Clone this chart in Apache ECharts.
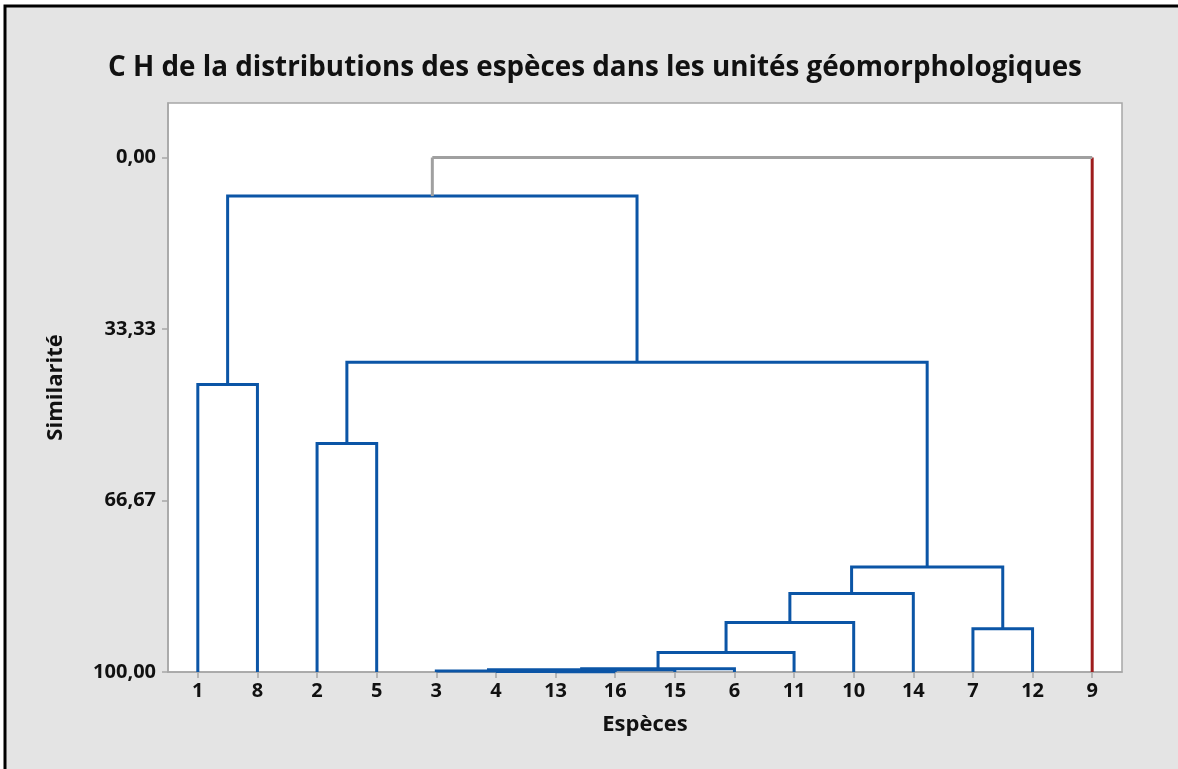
<!DOCTYPE html>
<html>
<head>
<meta charset="utf-8">
<script src="https://cdn.jsdelivr.net/npm/echarts@6/dist/echarts.min.js"></script>
<style>
  html, body { margin: 0; padding: 0; background: #ffffff; }
  #chart { width: 1178px; height: 769px; }
</style>
</head>
<body>
<div id="chart"></div>
<script>
// Leaves in display order and their colour group
const leaves = ['1', '8', '2', '5', '3', '4', '13', '16', '15', '6', '11', '10', '14', '7', '12', '9'];
const leafGroup = [1, 1, 1, 1, 1, 1, 1, 1, 1, 1, 1, 1, 1, 1, 1, 2];

// Agglomeration steps: cluster Ck joins mergeLeft[k] and mergeRight[k] at mergeSimilarity[k]
const mergeLeft = ['13', '4', '3', 'C2', 'C3', 'C4', 'C5', 'C6', '7', 'C7', '2', 'C10', '1', 'C12', 'C13'];
const mergeRight = ['16', 'C0', 'C1', '15', '6', '11', '10', '14', '12', 'C8', '5', 'C9', '8', 'C11', '9'];
const mergeSimilarity = [99.95, 99.9, 99.8, 99.55, 99.35, 96.2, 90.4, 84.75, 91.6, 79.6, 55.6, 39.8, 44.1, 7.5, 0];

// Similarity axis ticks
const yTicks = [0, 33.33, 66.67, 100];

const groupColor = { 1: '#0B55A6', 2: '#9E1C1C' };
const linkColor = '#A0A0A0';

// Resolve each node to an x position (leaf index space), a height and a group
const clusters = [];
function node(id) {
  if (id.charAt(0) === 'C') return clusters[+id.slice(1)];
  const i = leaves.indexOf(id);
  return { x: i, h: 100, group: leafGroup[i], leaf: true };
}

const segments = [];
mergeLeft.forEach(function (a, k) {
  const A = node(a), B = node(mergeRight[k]), h = mergeSimilarity[k];
  if (A.group === B.group) {
    const c = groupColor[A.group];
    segments.push({ pts: [[A.x, A.h], [A.x, h], [B.x, h], [B.x, B.h]], color: c });
    clusters.push({ x: (A.x + B.x) / 2, h: h, group: A.group });
  } else {
    segments.push({ pts: [[A.x, A.h], [A.x, h]], color: A.leaf ? groupColor[A.group] : linkColor });
    segments.push({ pts: [[B.x, B.h], [B.x, h]], color: B.leaf ? groupColor[B.group] : linkColor });
    segments.push({ pts: [[A.x, h], [B.x, h]], color: linkColor });
    clusters.push({ x: (A.x + B.x) / 2, h: h, group: 0 });
  }
});

const chart = echarts.init(document.getElementById('chart'));
const fontFamily = '"Open Sans", "Noto Sans", sans-serif';
const tickIdx = leaves.map(function (_, i) { return i; });

chart.setOption({
  backgroundColor: '#ffffff',
  animation: false,
  graphic: [{
    type: 'rect',
    z: -10,
    silent: true,
    shape: { x: 5, y: 6, width: 1190, height: 790 },
    style: { fill: '#E4E4E4', stroke: '#000000', lineWidth: 3 }
  }],
  title: {
    text: 'C H de la distributions des espèces dans les unités géomorphologiques',
    left: 590,
    textAlign: 'center',
    top: 49,
    textStyle: { fontFamily: fontFamily, fontWeight: 'bold', fontSize: 27.8, color: '#111111' }
  },
  grid: {
    left: 168, right: 56, top: 103, bottom: 97,
    show: true, backgroundColor: '#ffffff', borderColor: '#A6A6A6', borderWidth: 1.5
  },
  xAxis: {
    type: 'value',
    min: -0.5,
    max: leaves.length - 0.5,
    name: 'Espèces',
    nameLocation: 'middle',
    nameGap: 42,
    nameTextStyle: { fontFamily: fontFamily, fontWeight: 'bold', fontSize: 22, color: '#111111' },
    splitLine: { show: false },
    axisLine: { show: true, onZero: false, lineStyle: { color: '#A6A6A6', width: 1.5 } },
    axisTick: { show: true, length: 6, customValues: tickIdx, lineStyle: { color: '#A6A6A6', width: 1.5 } },
    axisLabel: {
      customValues: tickIdx,
      formatter: function (v) { return leaves[Math.round(v)]; },
      margin: 9,
      fontFamily: fontFamily, fontWeight: 'bold', fontSize: 20, color: '#111111'
    }
  },
  yAxis: {
    type: 'value',
    inverse: true,
    min: -10.6,
    max: 100,
    name: 'Similarité',
    nameLocation: 'middle',
    nameGap: 101,
    nameTextStyle: { fontFamily: fontFamily, fontWeight: 'bold', fontSize: 22, color: '#111111' },
    splitLine: { show: false },
    axisLine: { show: true, onZero: false, lineStyle: { color: '#A6A6A6', width: 1.5 } },
    axisTick: { show: true, length: 6, customValues: yTicks, lineStyle: { color: '#A6A6A6', width: 1.5 } },
    axisLabel: {
      customValues: yTicks,
      formatter: function (v) { return v.toFixed(2).replace('.', ','); },
      margin: 12,
      fontFamily: fontFamily, fontWeight: 'bold', fontSize: 20, color: '#111111'
    }
  },
  series: [{
    type: 'custom',
    clip: false,
    data: segments.map(function (s) { return s.pts[0]; }),
    encode: { x: 0, y: 1 },
    renderItem: function (params, api) {
      const s = segments[params.dataIndex];
      return {
        type: 'polyline',
        shape: { points: s.pts.map(function (p) { return api.coord(p); }) },
        style: { stroke: s.color, lineWidth: 3, fill: null, lineJoin: 'miter', lineCap: 'butt' }
      };
    }
  }]
});
</script>
</body>
</html>
